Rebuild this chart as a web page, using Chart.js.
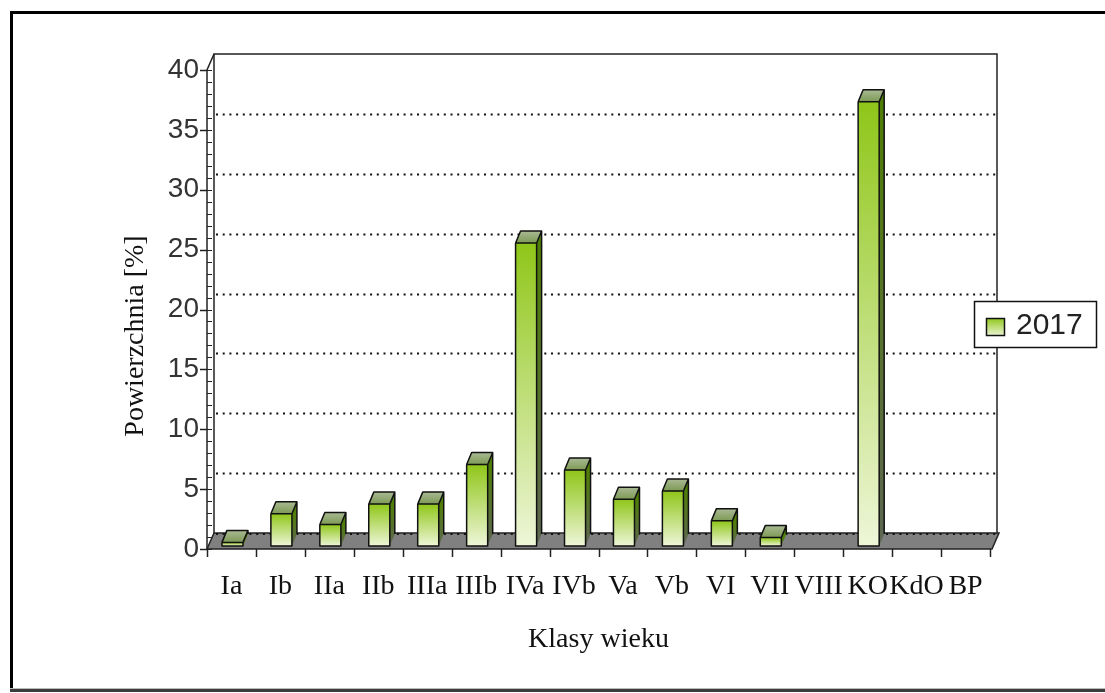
<!DOCTYPE html>
<html>
<head>
<meta charset="utf-8">
<script src="https://cdn.jsdelivr.net/npm/chart.js@4.4.1/dist/chart.umd.min.js"></script>
<style>
html, body { margin: 0; padding: 0; background: #fff; overflow: hidden; }
#wrap { width: 1105px; height: 693px; position: relative; }
</style>
</head>
<body>
<div id="wrap"><canvas id="chart"></canvas></div>
<script>
// age classes on the x axis
const categories = ['Ia', 'Ib', 'IIa', 'IIb', 'IIIa', 'IIIb', 'IVa', 'IVb', 'Va', 'Vb', 'VI', 'VII', 'VIII', 'KO', 'KdO', 'BP'];
// share of area [%] in 2017
const values2017 = [0.3, 2.7, 1.8, 3.5, 3.5, 6.8, 25.3, 6.35, 3.9, 4.6, 2.1, 0.7, 0, 37.1, 0, 0];
const seriesLabel = '2017';
const yMin = 0, yMax = 40, yStep = 5;
const xTitle = 'Klasy wieku';
const yTitle = 'Powierzchnia [%]';

const WALL_DX = 7, WALL_DY = -16;   // depth of the back wall
const BAR_DX = 5, BAR_DY = -12;     // depth of each bar
const BAR_SHIFT_X = 1, BAR_SHIFT_Y = -3;

function vGrad(ctx, y0, y1, c0, c1) {
    const g = ctx.createLinearGradient(0, y0, 0, y1);
    g.addColorStop(0, c0);
    g.addColorStop(1, c1);
    return g;
}

function poly(ctx, pts) {
    ctx.beginPath();
    ctx.moveTo(pts[0][0], pts[0][1]);
    for (let i = 1; i < pts.length; i++) ctx.lineTo(pts[i][0], pts[i][1]);
    ctx.closePath();
}

const chart3d = {
    id: 'chart3d',
    beforeDraw(chart) {
        const { ctx, chartArea: a, scales: { x, y }, width, height } = chart;
        const base = y.getPixelForValue(0);
        const topY = y.getPixelForValue(yMax);
        ctx.save();
        ctx.fillStyle = '#fff';
        ctx.fillRect(0, 0, width, height);

        // outer frame
        ctx.fillStyle = '#000';
        ctx.fillRect(10, 11, width - 10, 3);
        ctx.fillRect(10, 11, 3, 679);
        ctx.fillStyle = '#bbb';
        ctx.fillRect(10, 688, width - 10, 1);
        ctx.fillStyle = '#3c3c3c';
        ctx.fillRect(10, 689, width - 10, 3);

        const bl = a.left + WALL_DX, br = a.right + WALL_DX;

        // dotted grid on the back wall
        ctx.strokeStyle = '#111';
        ctx.lineWidth = 2;
        ctx.setLineDash([2, 4.7]);
        y.ticks.forEach(t => {
            if (t.value <= yMin || t.value >= yMax) return;
            const py = Math.round(y.getPixelForValue(t.value) + WALL_DY) + 0.5;
            ctx.beginPath();
            ctx.moveTo(bl + 2, py);
            ctx.lineTo(br, py);
            ctx.stroke();
        });
        ctx.setLineDash([]);

        // back wall edges
        ctx.strokeStyle = '#222';
        ctx.lineWidth = 1.5;
        ctx.beginPath();
        ctx.moveTo(bl, base + WALL_DY);
        ctx.lineTo(bl, topY + WALL_DY);
        ctx.lineTo(br, topY + WALL_DY);
        ctx.lineTo(br, base + WALL_DY);
        ctx.stroke();

        // floor
        poly(ctx, [[a.left, base], [a.right + 2, base], [br + 2, base + WALL_DY], [bl, base + WALL_DY]]);
        ctx.fillStyle = '#808080';
        ctx.fill();
        ctx.stroke();
        ctx.strokeStyle = '#111';
        ctx.lineWidth = 2;
        ctx.setLineDash([2, 4.7]);
        ctx.beginPath();
        ctx.moveTo(bl + 2, base + WALL_DY + 1);
        ctx.lineTo(br, base + WALL_DY + 1);
        ctx.stroke();
        ctx.setLineDash([]);

        // front y axis with its ladder of minor ticks
        ctx.strokeStyle = '#222';
        ctx.lineWidth = 1.5;
        ctx.beginPath();
        ctx.moveTo(a.left, base);
        ctx.lineTo(a.left, topY);
        ctx.lineTo(bl, topY + WALL_DY);
        ctx.stroke();
        ctx.lineWidth = 1;
        for (let v = yMin; v <= yMax; v++) {
            const py = Math.round(y.getPixelForValue(v)) + 0.5;
            ctx.beginPath();
            ctx.moveTo(a.left, py);
            ctx.lineTo(a.left + WALL_DX - 2, py);
            ctx.stroke();
        }
        ctx.lineWidth = 1.5;
        for (let v = yMin; v <= yMax; v += yStep) {
            const py = Math.round(y.getPixelForValue(v)) + 0.5;
            ctx.beginPath();
            ctx.moveTo(a.left - 7, py);
            ctx.lineTo(a.left, py);
            ctx.stroke();
        }

        // x axis ticks at category boundaries
        const catW = (a.right - a.left) / categories.length;
        for (let i = 0; i <= categories.length; i++) {
            const px = Math.round(a.left + i * catW) + 0.5;
            ctx.beginPath();
            ctx.moveTo(px, base);
            ctx.lineTo(px, base + 8);
            ctx.stroke();
        }
        ctx.restore();
    },
    beforeDatasetsDraw(chart) {
        chart.ctx.save();
        chart.ctx.translate(BAR_SHIFT_X, BAR_SHIFT_Y);
    },
    afterDatasetsDraw(chart) {
        const { ctx } = chart;
        const meta = chart.getDatasetMeta(0);
        meta.data.forEach((bar, i) => {
            if (!(values2017[i] > 0)) return;
            const p = bar.getProps(['x', 'y', 'base', 'width'], true);
            const l = p.x - p.width / 2, r = p.x + p.width / 2;
            const top = p.y, bot = p.base;

            // side face
            poly(ctx, [[r, top], [r + BAR_DX, top + BAR_DY], [r + BAR_DX, bot + BAR_DY], [r, bot]]);
            ctx.fillStyle = vGrad(ctx, top, bot, '#4f7e06', '#5e6752');
            ctx.fill();
            // top face
            poly(ctx, [[l, top], [l + BAR_DX, top + BAR_DY], [r + BAR_DX, top + BAR_DY], [r, top]]);
            ctx.fillStyle = vGrad(ctx, top + BAR_DY, top, '#a9b993', '#7d9a55');
            ctx.fill();

            // outlines
            ctx.strokeStyle = '#111';
            ctx.lineWidth = 1.5;
            ctx.lineJoin = 'round';
            ctx.beginPath();
            ctx.rect(l, top, r - l, bot - top);
            ctx.moveTo(l, top);
            ctx.lineTo(l + BAR_DX, top + BAR_DY);
            ctx.lineTo(r + BAR_DX, top + BAR_DY);
            ctx.lineTo(r + BAR_DX, bot + BAR_DY);
            ctx.moveTo(r, top);
            ctx.lineTo(r + BAR_DX, top + BAR_DY);
            ctx.stroke();
        });
        ctx.restore();
    },
    afterDraw(chart) {
        const { ctx } = chart;
        ctx.save();
        // y axis title
        ctx.translate(136, 336);
        ctx.rotate(-Math.PI / 2);
        ctx.font = '28px "Liberation Serif"';
        ctx.fillStyle = '#111';
        ctx.textAlign = 'center';
        ctx.textBaseline = 'middle';
        ctx.fillText(yTitle, 0, 0);
        ctx.restore();

        // legend
        ctx.save();
        ctx.fillStyle = '#fff';
        ctx.fillRect(974, 301, 123, 47);
        ctx.strokeStyle = '#111';
        ctx.lineWidth = 1.5;
        ctx.strokeRect(974.5, 301.5, 122, 46);
        ctx.fillStyle = vGrad(ctx, 318, 336, '#8fc619', '#eef6d8');
        ctx.fillRect(986, 318, 19, 18);
        ctx.strokeRect(986.5, 318.5, 18, 17);
        ctx.font = '30px "Liberation Sans"';
        ctx.fillStyle = '#222';
        ctx.textAlign = 'left';
        ctx.textBaseline = 'middle';
        ctx.fillText(chart.data.datasets[0].label, 1016, 326);
        ctx.restore();
    }
};

new Chart(document.getElementById('chart'), {
    type: 'bar',
    data: {
        labels: categories,
        datasets: [{
            label: seriesLabel,
            data: values2017,
            borderWidth: 0,
            categoryPercentage: 1,
            barPercentage: 0.43,
            backgroundColor: function(context) {
                const { chart } = context;
                if (!chart.chartArea) return '#9c3';
                const y = chart.scales.y;
                const top = y.getPixelForValue(context.raw);
                const base = y.getPixelForValue(0);
                if (base - top < 1) return '#9c3';
                return vGrad(chart.ctx, top, base, '#8fc619', '#eef6d8');
            }
        }]
    },
    options: {
        responsive: true,
        maintainAspectRatio: false,
        animation: false,
        events: [],
        layout: { padding: { top: 70, right: 115, left: 0, bottom: 0 } },
        plugins: {
            legend: { display: false },
            tooltip: { enabled: false }
        },
        scales: {
            x: {
                grid: { display: false, drawTicks: false },
                border: { display: false },
                ticks: {
                    padding: 21,
                    color: '#111',
                    font: { family: 'Liberation Serif', size: 28 },
                    maxRotation: 0,
                    autoSkip: false
                },
                title: {
                    display: true,
                    text: xTitle,
                    color: '#111',
                    font: { family: 'Liberation Serif', size: 28 },
                    padding: { top: 0, bottom: 37 }
                },
                afterFit(scale) { scale.height = 144; }
            },
            y: {
                min: yMin,
                max: yMax,
                grid: { display: false, drawTicks: false },
                border: { display: false },
                ticks: {
                    stepSize: yStep,
                    padding: 8,
                    color: '#333',
                    font: { family: 'Liberation Sans', size: 28 }
                },
                afterFit(scale) { scale.width = 207; }
            }
        }
    },
    plugins: [chart3d]
});
</script>
</body>
</html>
